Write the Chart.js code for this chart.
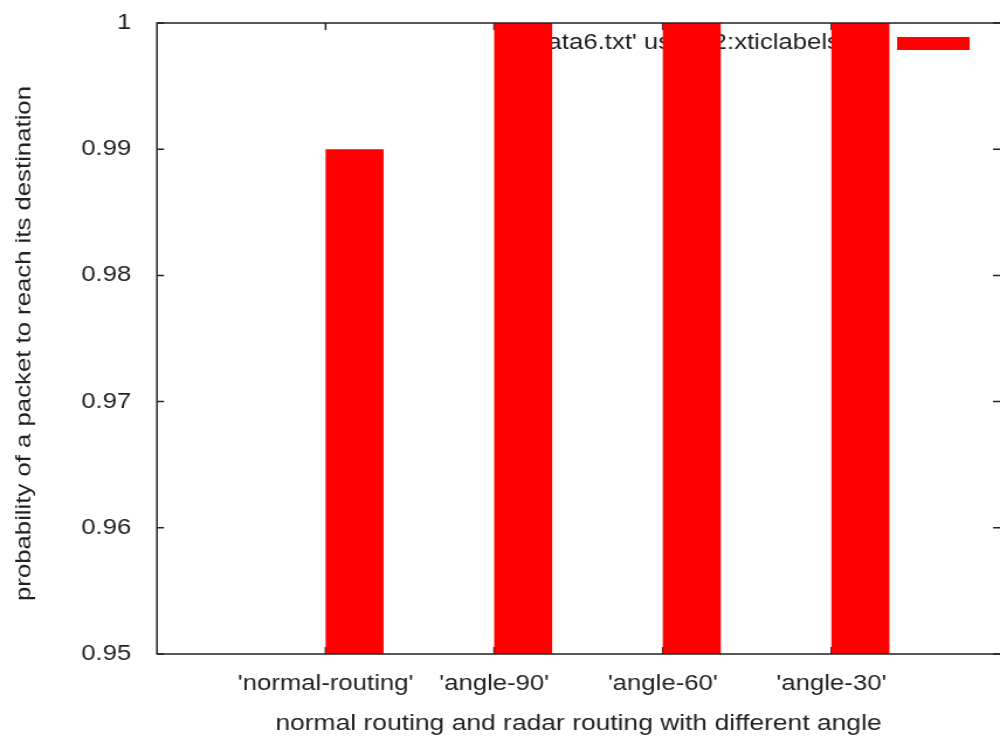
<!DOCTYPE html>
<html>
<head>
<meta charset="utf-8">
<script src="https://cdn.jsdelivr.net/npm/chart.js@4"></script>
<style>
  html, body { margin: 0; padding: 0; background: #fff; overflow: hidden; }
  /* gnuplot's text is wide: draw at 855px and stretch to 1000px */
  #wrap { width: 855px; height: 740px; transform: scaleX(1.1696); transform-origin: 0 0; }
</style>
</head>
<body>
<div id="wrap"><canvas id="chart" width="855" height="740"></canvas></div>
<script>
const categories = ["'normal-routing'", "'angle-90'", "'angle-60'", "'angle-30'"];
const probabilities = [0.99, 1, 1, 1];
const yTicks = [0.95, 0.96, 0.97, 0.98, 0.99, 1];
const seriesLabel = "'data6.txt' using 2:xticlabels(1)";
const xTitle = "normal routing and radar routing with different angle";
const yTitle = "probability of a packet to reach its destination";

const STRETCH = 1.1696;
const FONT = "'Liberation Sans', Arial, sans-serif";
const INK = "#222";
const RED = "#ff0000";

Chart.defaults.font.family = FONT;
Chart.defaults.font.size = 22;
Chart.defaults.color = INK;

// one empty slot on each side, like gnuplot's xrange [-1:4]
const labels = ["", ...categories, ""];
const values = [null, ...probabilities, null];
const spacer = labels.map(() => null);

// frame, inward ticks, key and y title, drawn like gnuplot
const gnuplotFrame = {
    id: "gnuplotFrame",
    beforeDatasetsDraw(chart) {
        const ctx = chart.ctx;
        const { left, right, top, bottom } = chart.chartArea;
        const x = chart.scales.x;
        const y = chart.scales.y;
        ctx.save();
        ctx.strokeStyle = INK;
        ctx.lineWidth = 1.5;
        ctx.beginPath();
        y.ticks.forEach(t => {
            const py = y.getPixelForValue(t.value);
            ctx.moveTo(left, py); ctx.lineTo(left + 6, py);
            ctx.moveTo(right, py); ctx.lineTo(right - 6, py);
        });
        labels.forEach((lab, i) => {
            if (!lab) return;
            const px = x.getPixelForTick(i);
            ctx.moveTo(px, bottom); ctx.lineTo(px, bottom - 7);
            ctx.moveTo(px, top); ctx.lineTo(px, top + 7);
        });
        ctx.stroke();

        ctx.fillStyle = INK;
        ctx.font = "22px " + FONT;
        ctx.textAlign = "right";
        ctx.textBaseline = "middle";
        ctx.fillText(seriesLabel, right - 110, top + 20);
        ctx.restore();
    },
    afterDatasetsDraw(chart) {
        const ctx = chart.ctx;
        const { left, right, top, bottom } = chart.chartArea;
        ctx.save();
        ctx.strokeStyle = INK;
        ctx.lineWidth = 1.5;
        ctx.beginPath();
        ctx.moveTo(right, top); ctx.lineTo(left, top);
        ctx.lineTo(left, bottom); ctx.lineTo(right, bottom);
        ctx.stroke();
        ctx.fillStyle = RED;
        ctx.fillRect(right - 88, top + 14, 62, 13);

        // rotated title, stretched along its length like the other text
        ctx.translate(20.5, (top + bottom) / 2 + 5);
        ctx.rotate(-Math.PI / 2);
        ctx.scale(STRETCH, 1 / STRETCH);
        ctx.fillStyle = INK;
        ctx.font = "22px " + FONT;
        ctx.textAlign = "center";
        ctx.textBaseline = "middle";
        ctx.fillText(yTitle, 0, 0);
        ctx.restore();
    }
};

const chart = new Chart(document.getElementById("chart"), {
    type: "bar",
    data: {
        labels: labels,
        datasets: [
            { label: "", data: spacer, backgroundColor: "rgba(0,0,0,0)" },
            { label: seriesLabel, data: values, backgroundColor: RED }
        ]
    },
    options: {
        responsive: false,
        animation: false,
        layout: { padding: { top: 23, left: 0, right: 0, bottom: 0 } },
        datasets: {
            bar: { barPercentage: 1, categoryPercentage: 0.688, borderWidth: 0 }
        },
        plugins: {
            legend: { display: false },
            tooltip: { enabled: false }
        },
        scales: {
            x: {
                type: "category",
                offset: false,
                grid: { display: false, drawTicks: false, offset: false },
                border: { display: false },
                ticks: { autoSkip: false, maxRotation: 0, padding: 17 },
                title: {
                    display: true, text: xTitle,
                    font: { size: 22.6 },
                    padding: { top: 0, bottom: 3 }
                },
                afterFit: s => {
                    s.height = 86;
                    s.paddingLeft = 0;
                    s.paddingRight = 0;
                }
            },
            y: {
                min: 0.95,
                max: 1,
                grid: { display: false, drawTicks: false },
                border: { display: false },
                afterBuildTicks: s => { s.ticks = yTicks.map(v => ({ value: v })); },
                ticks: {
                    padding: 22,
                    callback: v => String(Math.round(v * 100) / 100)
                },
                afterFit: s => {
                    s.width = 134.2;
                    s.paddingTop = 0;
                    s.paddingBottom = 0;
                }
            }
        }
    },
    plugins: [gnuplotFrame]
});
</script>
</body>
</html>
